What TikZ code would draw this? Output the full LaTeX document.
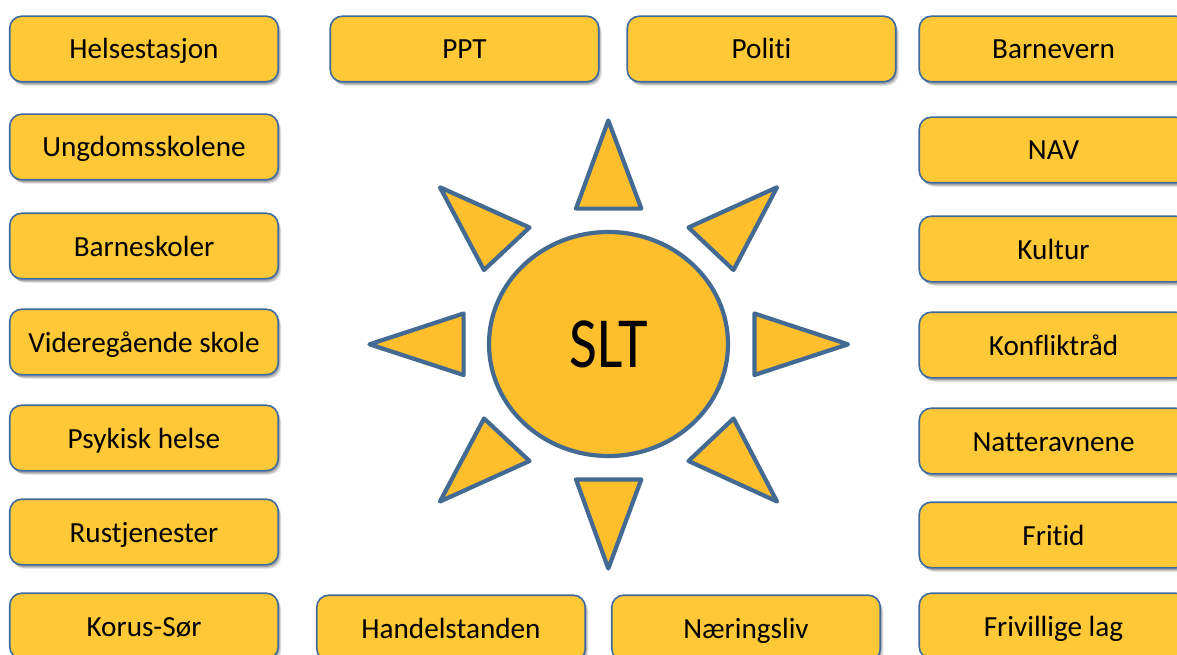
\documentclass[tikz,border=0pt]{standalone}
\usepackage{fontspec}
\setmainfont[Ligatures=NoCommon]{Carlito}
\newfontfamily\sltfont[FakeStretch=0.84]{Carlito}
\usetikzlibrary{shapes.geometric, positioning, shadows}
\definecolor{boxfill}{HTML}{FFC836}
\definecolor{boxline}{HTML}{3F6AA0}
\definecolor{sunfill}{HTML}{FFBE2C}
\definecolor{sunline}{HTML}{436A92}
\tikzstyle{softshadow} = [drop shadow={shadow xshift=1pt, shadow yshift=-2pt, opacity=0.16, fill=black}, drop shadow={shadow xshift=2pt, shadow yshift=-3pt, opacity=0.14, fill=black}, drop shadow={shadow xshift=3pt, shadow yshift=-4pt, opacity=0.10, fill=black}]
\tikzstyle{etat} = [rectangle, rounded corners=12pt, minimum width=268.5pt, minimum height=65.6pt, inner sep=0pt, outer sep=0pt, text centered, text height=22pt, text depth=2pt, font=\fontsize{29.2}{32}\selectfont, draw=boxline, line width=1.6pt, fill=boxfill, softshadow]
\tikzstyle{ray} = [draw=sunline, line width=4.2pt, line join=round, fill=sunfill]
\begin{document}
\begin{tikzpicture}[x=1pt, y=-1pt]
\useasboundingbox (0,0) rectangle (1177,655);
\clip (0,0) rectangle (1177,655);
\fill [white] (0,0) rectangle (1177,655);
% left column
\node (helse) [etat] at (144,49) {Helsestasjon};
\node (ungdom) [etat, below=32.4pt of helse] {Ungdomsskolene};
\node (barne) [etat, below=33.4pt of ungdom] {Barneskoler};
\node (vgs) [etat, below=30.4pt of barne] {Videregående skole};
\node (psykisk) [etat, below=30.4pt of vgs] {Psykisk helse};
\node (rus) [etat, below=28.4pt of psykisk] {Rustjenester};
\node (korus) [etat, below=28.4pt of rus] {Korus-Sør};
% top row
\node (ppt) [etat, right=52pt of helse] {PPT};
\node (politi) [etat, right=28.5pt of ppt] {Politi};
% right column
\node (barnevern) [etat, right=23.5pt of politi] {Barnevern};
\node (nav) [etat, below=35.4pt of barnevern] {NAV};
\node (kultur) [etat, below=33.4pt of nav] {Kultur};
\node (konflikt) [etat, below=30.4pt of kultur] {Konfliktråd};
\node (natt) [etat, below=30.4pt of konflikt] {Natteravnene};
\node (fritid) [etat, below=28.4pt of natt] {Fritid};
\node (frivillig) [etat, below=25.4pt of fritid] {Frivillige lag};
% bottom row
\node (handel) [etat, right=38.5pt of korus, yshift=-2pt] {Handelstanden};
\node (naering) [etat, right=26.5pt of handel] {Næringsliv};
% sun
\node (slt) [ellipse, draw=sunline, line width=4.2pt, fill=sunfill, minimum width=239pt, minimum height=224pt, inner sep=0pt, font=\sltfont\fontsize{72}{80}\selectfont] at (608.5,344) {SLT};
\draw [ray] (608.3,120.4) -- (576,208.6) -- (641.3,208.6) -- cycle;
\draw [ray] (777,187.3) -- (688.5,227.5) -- (733.5,270) -- cycle;
\draw [ray] (848,344.3) -- (754.4,313.5) -- (754.4,375) -- cycle;
\draw [ray] (777,501.5) -- (688.5,461) -- (733.5,418.5) -- cycle;
\draw [ray] (608.3,568.5) -- (576,479.4) -- (641.3,479.4) -- cycle;
\draw [ray] (440,501.5) -- (529.5,461) -- (484,418.5) -- cycle;
\draw [ray] (369.5,344.3) -- (463.6,313.5) -- (463.6,375) -- cycle;
\draw [ray] (440,187.3) -- (529.5,227.5) -- (484,270) -- cycle;
\end{tikzpicture}
\end{document}
